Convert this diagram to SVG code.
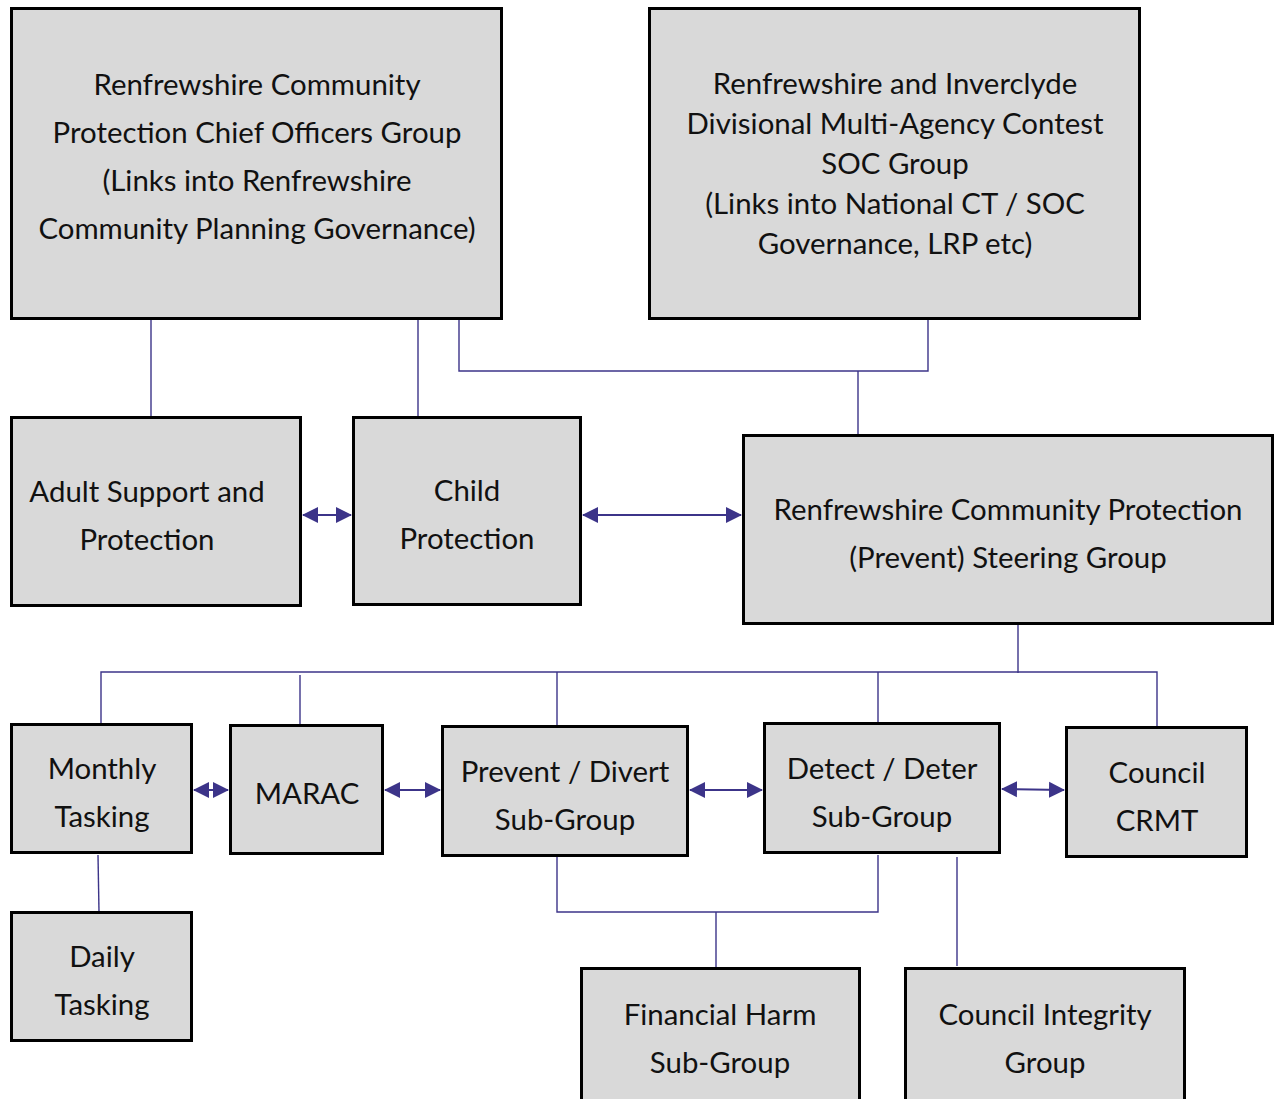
<svg xmlns="http://www.w3.org/2000/svg" width="1283" height="1099" viewBox="0 0 1283 1099">
<style>
.box{fill:#d9d9d9;stroke:#000;stroke-width:3}
.t{font-family:Lato,"Liberation Sans",sans-serif;font-size:29.4px;fill:#111;text-anchor:middle}
.c{fill:none;stroke:#3c3489;stroke-width:1.4}
.a{fill:none;stroke:#3c3489;stroke-width:2}
</style>
<defs>
<marker id="ah" markerUnits="userSpaceOnUse" markerWidth="16" markerHeight="18" refX="15" refY="8" orient="auto-start-reverse" viewBox="0 0 16 16">
<path d="M0,0 L16,8 L0,16 Z" fill="#3c3489"/>
</marker>
</defs>
<rect width="1283" height="1099" fill="#fff"/>
<g id="connectors">
<path class="c" d="M151,319 V417"/>
<path class="c" d="M418,319 V417"/>
<path class="c" d="M459,319 V371 H928 V319"/>
<path class="c" d="M858,371 V435"/>
<path class="c" d="M1018,624 V673"/>
<path class="c" d="M101,724 V672 H1157 V727"/>
<path class="c" d="M300,675 V725"/>
<path class="c" d="M557,672 V726"/>
<path class="c" d="M878,672 V723"/>
<path class="c" d="M98,855 L99,912"/>
<path class="c" d="M557,856 V912 H878 V855"/>
<path class="c" d="M716,912 V968"/>
<path class="c" d="M957,857 V966"/>
<path class="a" d="M303,515 H351" marker-start="url(#ah)" marker-end="url(#ah)"/>
<path class="a" d="M583,515 H741" marker-start="url(#ah)" marker-end="url(#ah)"/>
<path class="a" d="M194,790 H228" marker-start="url(#ah)" marker-end="url(#ah)"/>
<path class="a" d="M385,790 H440" marker-start="url(#ah)" marker-end="url(#ah)"/>
<path class="a" d="M690,790 H762" marker-start="url(#ah)" marker-end="url(#ah)"/>
<path class="a" d="M1002,789 L1064,790" marker-start="url(#ah)" marker-end="url(#ah)"/>
</g>
<g id="chief-officers">
<rect class="box" x="11.5" y="8.5" width="490" height="310"/>
<text class="t" x="257" y="95">Renfrewshire Community</text>
<text class="t" x="257" y="143">Protection Chief Officers Group</text>
<text class="t" x="257" y="191">(Links into Renfrewshire</text>
<text class="t" x="257" y="239">Community Planning Governance)</text>
</g>
<g id="soc-group">
<rect class="box" x="649.5" y="8.5" width="490" height="310"/>
<text class="t" x="895" y="94">Renfrewshire and Inverclyde</text>
<text class="t" x="895" y="134">Divisional Multi-Agency Contest</text>
<text class="t" x="895" y="174">SOC Group</text>
<text class="t" x="895" y="214">(Links into National CT / SOC</text>
<text class="t" x="895" y="254">Governance, LRP etc)</text>
</g>
<g id="adult-support">
<rect class="box" x="11.5" y="417.5" width="289" height="188"/>
<text class="t" x="147" y="502">Adult Support and</text>
<text class="t" x="147" y="550">Protection</text>
</g>
<g id="child-protection">
<rect class="box" x="353.5" y="417.5" width="227" height="187"/>
<text class="t" x="467" y="501">Child</text>
<text class="t" x="467" y="549">Protection</text>
</g>
<g id="steering-group">
<rect class="box" x="743.5" y="435.5" width="529" height="188"/>
<text class="t" x="1008" y="520">Renfrewshire Community Protection</text>
<text class="t" x="1008" y="568">(Prevent) Steering Group</text>
</g>
<g id="monthly-tasking">
<rect class="box" x="11.5" y="724.5" width="180" height="128"/>
<text class="t" x="102" y="779">Monthly</text>
<text class="t" x="102" y="827">Tasking</text>
</g>
<g id="marac">
<rect class="box" x="230.5" y="725.5" width="152" height="128"/>
<text class="t" x="307" y="804">MARAC</text>
</g>
<g id="prevent-divert">
<rect class="box" x="442.5" y="726.5" width="245" height="129"/>
<text class="t" x="565" y="782">Prevent / Divert</text>
<text class="t" x="565" y="830">Sub-Group</text>
</g>
<g id="detect-deter">
<rect class="box" x="764.5" y="723.5" width="235" height="129"/>
<text class="t" x="882" y="779">Detect / Deter</text>
<text class="t" x="882" y="827">Sub-Group</text>
</g>
<g id="council-crmt">
<rect class="box" x="1066.5" y="727.5" width="180" height="129"/>
<text class="t" x="1157" y="783">Council</text>
<text class="t" x="1157" y="831">CRMT</text>
</g>
<g id="daily-tasking">
<rect class="box" x="11.5" y="912.5" width="180" height="128"/>
<text class="t" x="102" y="967">Daily</text>
<text class="t" x="102" y="1015">Tasking</text>
</g>
<g id="financial-harm">
<rect class="box" x="581.5" y="968.5" width="278" height="140"/>
<text class="t" x="720" y="1025">Financial Harm</text>
<text class="t" x="720" y="1073">Sub-Group</text>
</g>
<g id="council-integrity">
<rect class="box" x="905.5" y="968.5" width="279" height="140"/>
<text class="t" x="1045" y="1025">Council Integrity</text>
<text class="t" x="1045" y="1073">Group</text>
</g>
</svg>
